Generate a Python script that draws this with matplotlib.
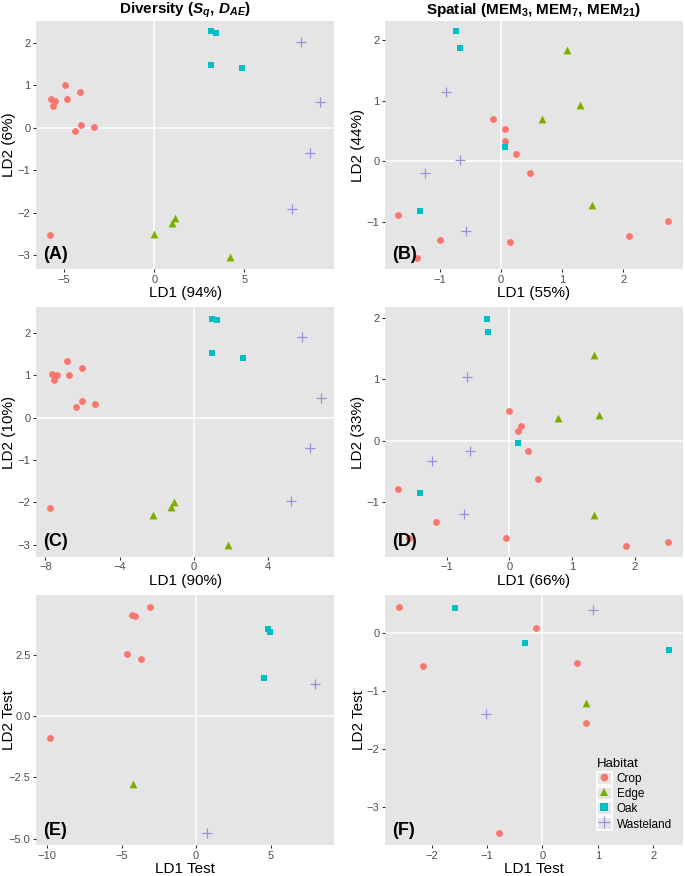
import matplotlib
matplotlib.use("Agg")
import matplotlib.pyplot as plt
from matplotlib.lines import Line2D
from matplotlib.patches import Patch
from matplotlib.legend_handler import HandlerTuple

plt.rcParams['font.family'] = ['Liberation Sans', 'DejaVu Sans']
plt.rcParams['mathtext.fontset'] = 'custom'
plt.rcParams['mathtext.rm'] = 'Liberation Sans:bold'
plt.rcParams['mathtext.it'] = 'Liberation Sans:bold:italic'
plt.rcParams['mathtext.bf'] = 'Liberation Sans:bold'

habitats = ["Crop", "Edge", "Oak", "Wasteland"]
colors = {"Crop": "#F8766D", "Edge": "#7CAE00", "Oak": "#00BFC4", "Wasteland": "#A08CDB"}
markers = {"Crop": "o", "Edge": "^", "Oak": "s", "Wasteland": "+"}

# Panel A: Diversity training
A_crop_x = [-4.93, -4.10, -5.72, -4.83, -5.48, -5.58, -5.63, -4.06, -4.39, -3.34, -5.76]
A_crop_y = [1.00, 0.85, 0.67, 0.67, 0.64, 0.62, 0.51, 0.06, -0.07, 0.03, -2.52]
A_edge_x = [0.00, 1.18, 1.00, 4.21]
A_edge_y = [-2.49, -2.13, -2.25, -3.05]
A_oak_x = [3.14, 3.41, 3.14, 4.89]
A_oak_y = [2.27, 2.24, 1.47, 1.40]
A_waste_x = [8.14, 9.21, 8.65, 7.62]
A_waste_y = [2.01, 0.61, -0.60, -1.91]

# Panel B: Spatial training
B_crop_x = [-0.14, 0.07, 0.07, 0.25, 0.47, -1.68, -1.00, 0.15, 2.09, 2.73, -1.38]
B_crop_y = [0.69, 0.53, 0.33, 0.13, -0.19, -0.88, -1.29, -1.32, -1.23, -0.97, -1.58]
B_edge_x = [1.07, 1.29, 0.67, 1.48]
B_edge_y = [1.83, 0.92, 0.70, -0.71]
B_oak_x = [-0.74, -0.68, 0.07, -1.33]
B_oak_y = [2.14, 1.87, 0.24, -0.82]
B_waste_x = [-0.91, -0.67, -1.25, -0.57]
B_waste_y = [1.14, 0.02, -0.19, -1.14]

# Panel C: Diversity training (second model)
C_crop_x = [-6.86, -7.63, -7.36, -7.54, -7.50, -6.03, -6.75, -6.03, -6.36, -5.35, -7.76]
C_crop_y = [1.34, 1.03, 1.00, 0.89, 0.98, 1.17, 1.00, 0.38, 0.26, 0.32, -2.14]
C_edge_x = [-2.19, -1.06, -1.22, 1.85]
C_edge_y = [-2.29, -1.98, -2.10, -3.00]
C_oak_x = [0.99, 1.26, 0.97, 2.66]
C_oak_y = [2.33, 2.29, 1.53, 1.41]
C_waste_x = [5.80, 6.82, 6.25, 5.21]
C_waste_y = [1.90, 0.47, -0.71, -1.97]

# Panel D: Spatial training (second model)
D_crop_x = [0.00, 0.18, 0.14, 0.29, 0.45, -1.77, -1.17, -1.60, -0.05, 1.86, 2.53]
D_crop_y = [0.49, 0.23, 0.15, -0.17, -0.63, -0.79, -1.34, -1.60, -1.60, -1.72, -1.66]
D_edge_x = [1.35, 1.43, 0.78, 1.34]
D_edge_y = [1.40, 0.42, 0.37, -1.21]
D_oak_x = [-0.36, -0.34, 0.13, -1.42]
D_oak_y = [1.99, 1.78, -0.04, -0.85]
D_waste_x = [-0.68, -0.63, -1.23, -0.73]
D_waste_y = [1.04, -0.17, -0.33, -1.20]

# Panel E: Diversity test
E_crop_x = [-3.11, -4.32, -4.12, -4.61, -3.67, -9.80]
E_crop_y = [4.46, 4.10, 4.08, 2.54, 2.32, -0.88]
E_edge_x = [-4.25]
E_edge_y = [-2.77]
E_oak_x = [4.81, 4.97, 4.59]
E_oak_y = [3.55, 3.42, 1.54]
E_waste_x = [7.96, 0.76]
E_waste_y = [1.32, -4.78]

# Panel F: Spatial test
F_crop_x = [-2.59, -0.11, -2.15, 0.62, 0.79, -0.79]
F_crop_y = [0.46, 0.09, -0.56, -0.51, -1.56, -3.46]
F_edge_x = [0.79]
F_edge_y = [-1.20]
F_oak_x = [-1.58, -0.31, 2.28]
F_oak_y = [0.44, -0.17, -0.29]
F_waste_x = [0.91, -1.02]
F_waste_y = [0.40, -1.40]

panels = [
    dict(label="(A)", xlabel="LD1 (94%)", ylabel="LD2 (6%)",
         data=[(A_crop_x, A_crop_y), (A_edge_x, A_edge_y), (A_oak_x, A_oak_y), (A_waste_x, A_waste_y)],
         xlim=(-6.55, 9.98), ylim=(-3.33, 2.52), xticks=[-5, 0, 5], yticks=[-3, -2, -1, 0, 1, 2],
         ytl=None, ylab_x=-0.066),
    dict(label="(B)", xlabel="LD1 (55%)", ylabel="LD2 (44%)",
         data=[(B_crop_x, B_crop_y), (B_edge_x, B_edge_y), (B_oak_x, B_oak_y), (B_waste_x, B_waste_y)],
         xlim=(-1.90, 2.97), ylim=(-1.77, 2.31), xticks=[-1, 0, 1, 2], yticks=[-1, 0, 1, 2],
         ytl=None, ylab_x=-0.067),
    dict(label="(C)", xlabel="LD1 (90%)", ylabel="LD2 (10%)",
         data=[(C_crop_x, C_crop_y), (C_edge_x, C_edge_y), (C_oak_x, C_oak_y), (C_waste_x, C_waste_y)],
         xlim=(-8.51, 7.56), ylim=(-3.28, 2.6), xticks=[-8, -4, 0, 4], yticks=[-3, -2, -1, 0, 1, 2],
         ytl=None, ylab_x=-0.066),
    dict(label="(D)", xlabel="LD1 (66%)", ylabel="LD2 (33%)",
         data=[(D_crop_x, D_crop_y), (D_edge_x, D_edge_y), (D_oak_x, D_oak_y), (D_waste_x, D_waste_y)],
         xlim=(-1.98, 2.76), ylim=(-1.90, 2.18), xticks=[-1, 0, 1, 2], yticks=[-1, 0, 1, 2],
         ytl=None, ylab_x=-0.067),
    dict(label="(E)", xlabel="LD1 Test", ylabel="LD2 Test",
         data=[(E_crop_x, E_crop_y), (E_edge_x, E_edge_y), (E_oak_x, E_oak_y), (E_waste_x, E_waste_y)],
         xlim=(-10.74, 9.28), ylim=(-5.26, 4.93), xticks=[-10, -5, 0, 5], yticks=[-5, -2.5, 0, 2.5],
         ytl=["\u22125.0", "\u22122.5", "0.0", "2.5"], ylab_x=-0.066),
    dict(label="(F)", xlabel="LD1 Test", ylabel="LD2 Test",
         data=[(F_crop_x, F_crop_y), (F_edge_x, F_edge_y), (F_oak_x, F_oak_y), (F_waste_x, F_waste_y)],
         xlim=(-2.84, 2.53), ylim=(-3.66, 0.66), xticks=[-2, -1, 0, 1, 2], yticks=[-3, -2, -1, 0],
         ytl=None, ylab_x=-0.064),
]

W, H = 685, 876
fig = plt.figure(figsize=(W / 100, H / 100), dpi=100)

lefts = [36, 385]
widths = [298.3, 297.7]
tops = [20.7, 307.3, 595]
heights = [248.6, 249.4, 250]

sizes = {"Crop": 24, "Edge": 32, "Oak": 22, "Wasteland": 60}

axes = []
for i, p in enumerate(panels):
    r, c = divmod(i, 2)
    l, w = lefts[c], widths[c]
    t, h = tops[r], heights[r]
    ax = fig.add_axes([l / W, 1 - (t + h) / H, w / W, h / H])
    ax.set_facecolor("#E5E5E5")
    for s in ax.spines.values():
        s.set_visible(False)
    ax.axhline(0, color="white", lw=1.1, zorder=1)
    ax.axvline(0, color="white", lw=1.1, zorder=1)
    for hab, (xs, ys) in zip(habitats, p["data"]):
        if markers[hab] == "+":
            ax.scatter(xs, ys, marker="+", s=sizes[hab], c=colors[hab], linewidths=0.9, zorder=3)
        else:
            ax.scatter(xs, ys, marker=markers[hab], s=sizes[hab], c=colors[hab], linewidths=0, zorder=3)
    ax.set_xlim(*p["xlim"])
    ax.set_ylim(*p["ylim"])
    ax.set_xticks(p["xticks"])
    ax.set_yticks(p["yticks"])
    if p["ytl"] is not None:
        ax.set_yticklabels(p["ytl"])
    ax.tick_params(axis="both", length=2.5, width=0.8, color="#333333", labelcolor="#4D4D4D",
                   labelsize=8, pad=1.5)
    ax.set_xlabel(p["xlabel"], fontsize=11, labelpad=1)
    ax.set_ylabel(p["ylabel"], fontsize=11)
    ax.yaxis.set_label_coords(p["ylab_x"], 0.5)
    ax.text(0.025, 0.025, p["label"], transform=ax.transAxes, fontsize=13, fontweight="bold",
            ha="left", va="bottom", zorder=5)
    axes.append(ax)

axes[0].set_title(r"Diversity ($S_q$, $D_{AE}$)", fontsize=11, fontweight="bold", pad=5)
axes[1].set_title(r"Spatial (MEM$_3$, MEM$_7$, MEM$_{21}$)", fontsize=11, fontweight="bold", pad=5)

handles = []
for hab in habitats:
    box = Patch(facecolor="#E5E5E5", edgecolor="white", linewidth=1.2)
    if markers[hab] == "+":
        mk = Line2D([], [], marker="+", linestyle="none", color=colors[hab],
                    markersize=8, markeredgewidth=0.9)
    else:
        mk = Line2D([], [], marker=markers[hab], linestyle="none", color=colors[hab],
                    markeredgewidth=0, markersize=5.5)
    handles.append((box, mk))
leg = axes[5].legend(handles, habitats, title="Habitat", loc="lower right",
                     bbox_to_anchor=(0.995, 0.02), frameon=False, fontsize=8.5, title_fontsize=9.5,
                     handlelength=1.3, handleheight=1.3, handletextpad=0.4, labelspacing=0.15,
                     borderpad=0.3, handler_map={tuple: HandlerTuple(ndivide=1, pad=0)})
leg._legend_box.align = "left"

fig.savefig("out.png", dpi=100)
